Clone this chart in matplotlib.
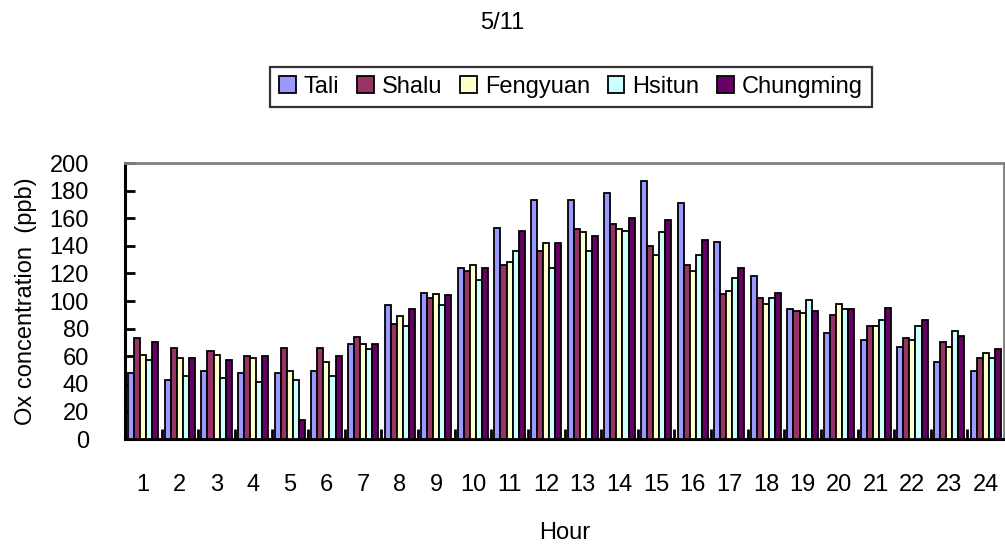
import numpy as np
import matplotlib.pyplot as plt

hours = [str(h) for h in range(1, 25)]
stations = ["Tali", "Shalu", "Fengyuan", "Hsitun", "Chungming"]

tali = [48, 43, 49, 48, 48, 49, 69, 97, 106, 124, 153, 173,
        173, 178, 187, 171, 143, 118, 94, 77, 72, 67, 56, 49]
shalu = [73, 66, 64, 60, 66, 66, 74, 83, 102, 122, 126, 136,
         152, 156, 140, 126, 105, 102, 93, 90, 82, 73, 70, 59]
fengyuan = [61, 59, 61, 59, 49, 56, 69, 89, 105, 126, 128, 142,
            150, 152, 133, 122, 107, 98, 91, 98, 82, 72, 67, 62]
hsitun = [57, 46, 44, 41, 43, 46, 65, 82, 97, 115, 136, 124,
          136, 151, 150, 133, 117, 102, 101, 94, 86, 82, 78, 59]
chungming = [70, 59, 57, 60, 14, 60, 69, 94, 104, 124, 151, 142,
             147, 160, 159, 144, 124, 106, 93, 94, 95, 86, 75, 65]

series = [tali, shalu, fengyuan, hsitun, chungming]
colors = ["#9999FF", "#993366", "#FFFFCC", "#CCFFFF", "#660066"]

plt.rcParams["font.family"] = ["Liberation Sans", "DejaVu Sans"]
fs = 17

fig = plt.figure(figsize=(10.05, 5.56), dpi=100)
ax = fig.add_axes([125 / 1005, 1 - 439 / 556, 879 / 1005, 276 / 556])

x = np.arange(1, 25)
w = 0.165
for i, (vals, c, name) in enumerate(zip(series, colors, stations)):
    ax.bar(x + (i - 2) * w, vals, width=w, color=c, edgecolor="black",
           linewidth=1.3, label=name, zorder=3)

ax.set_xlim(0.5, 24.5)
ax.set_ylim(0, 200)
ax.set_yticks(range(0, 201, 20))
ax.set_xticks(x)
ax.set_xticklabels(hours)
ax.set_xticks(np.arange(1.5, 24.5, 1), minor=True)
ax.tick_params(axis="x", which="major", length=0, pad=25, labelsize=fs)
ax.tick_params(axis="x", which="minor", direction="in", length=7, width=2)
ax.tick_params(axis="y", direction="in", length=7, width=2, labelsize=fs, pad=26)

for side in ["left", "bottom"]:
    ax.spines[side].set_linewidth(2.2)
    ax.spines[side].set_color("black")
for side in ["top", "right"]:
    ax.spines[side].set_linewidth(2)
    ax.spines[side].set_color("#808080")

ax.set_xlabel("Hour", fontsize=fs)
ax.xaxis.label.set_va("center")
ax.xaxis.set_label_coords(0.5, (439 - 533) / 276)
ax.set_ylabel("Ox concentration  (ppb)", fontsize=fs)
ax.yaxis.label.set_va("center")
ax.yaxis.set_label_coords((26 - 125) / 879, 0.5)

fig.text(0.5, 1 - 23 / 556, "5/11", ha="center", va="center", fontsize=fs)

leg = fig.legend(loc="center", bbox_to_anchor=(571 / 1005, 1 - 87 / 556),
                 ncol=5, fontsize=fs, frameon=True, fancybox=False,
                 handlelength=0.7, handleheight=0.7, handletextpad=0.35,
                 columnspacing=0.75, borderpad=0.4, edgecolor="black")
leg.get_frame().set_linewidth(1.6)

fig.savefig("out.png", dpi=100)
